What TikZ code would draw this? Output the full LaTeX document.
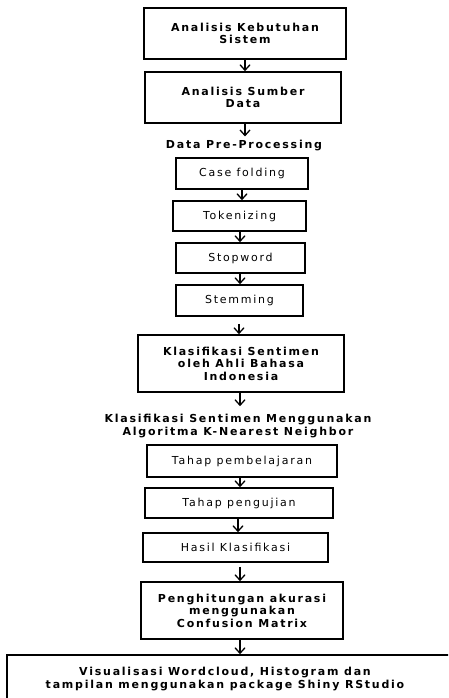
\documentclass[tikz,border=0pt]{standalone}
\usepackage{fontspec}
\setmainfont{DejaVu Sans}[LetterSpace=16]
\usepackage{tikz}
\usetikzlibrary{arrows.meta}

\tikzset{
  box/.style={draw, line width=1.6pt, inner sep=0pt, align=center,
    font=\fontsize{11}{12.5}\selectfont},
  bbox/.style={box, font=\fontsize{11}{12.5}\selectfont\bfseries},
  lbl/.style={inner sep=0pt, align=center, font=\fontsize{11}{12.5}\selectfont\bfseries},
  arr/.style={line width=1.3pt, -{Straight Barb[length=5.5pt,width=10pt]}}
}

\begin{document}
\begin{tikzpicture}[x=1pt,y=-1pt]
    \useasboundingbox (0,0) rectangle (448,698);
    \clip (0,0) rectangle (448,698);

    % Boxes
    \node[bbox, minimum width=202pt, minimum height=51pt] (kebutuhan) at (245,33.5) {Analisis Kebutuhan\\Sistem};
    \node[bbox, minimum width=196pt, minimum height=51pt] (sumber) at (243,97.5) {Analisis Sumber\\Data};
    \node[lbl] (preproc) at (244,146) {Data Pre-Processing};
    \node[box, minimum width=132pt, minimum height=31pt] (casefold) at (242,173.5) {Case folding};
    \node[box, minimum width=133pt, minimum height=30pt] (token) at (239.5,216) {Tokenizing};
    \node[box, minimum width=129pt, minimum height=30pt] (stopword) at (240.5,258) {Stopword};
    \node[box, minimum width=127pt, minimum height=31pt] (stem) at (239.5,300.5) {Stemming};
    \node[bbox, minimum width=206pt, minimum height=57pt] (ahli) at (241,363.5) {Klasifikasi Sentimen\\oleh Ahli Bahasa\\Indonesia};
    \node[lbl] (knn) at (238,426) {Klasifikasi Sentimen Menggunakan\\Algoritma K-Nearest Neighbor};
    \node[box, minimum width=190pt, minimum height=32pt] (latih) at (242,461) {Tahap pembelajaran};
    \node[box, minimum width=188pt, minimum height=30pt] (uji) at (239,503) {Tahap pengujian};
    \node[box, minimum width=185pt, minimum height=29pt] (hasil) at (235.5,547.5) {Hasil Klasifikasi};
    \node[bbox, minimum width=202pt, minimum height=57pt] (akurasi) at (242,610.5) {Penghitungan akurasi\\menggunakan\\Confusion Matrix};
    \node[bbox, minimum width=453pt, minimum height=65pt] (visual) at (233.5,687.5) {};
    \node[lbl] (vistext) at (225,679) {Visualisasi Wordcloud, Histogram dan\\tampilan menggunakan package Shiny RStudio};

    % Arrows
    \draw[arr] (kebutuhan.south -| 245,0) -- (sumber.north -| 245,0);
    \draw[arr] (sumber.south -| 245,0) -- ([yshift=4pt]preproc.north -| 245,0);
    \draw[arr] (casefold.south -| 242,0) -- (token.north -| 242,0);
    \draw[arr] (token.south -| 240,0) -- (stopword.north -| 240,0);
    \draw[arr] (stopword.south -| 240,0) -- (stem.north -| 240,0);
    \draw[arr, shorten <=7pt] (stem.south -| 239,0) -- (ahli.north -| 239,0);
    \draw[arr] (ahli.south -| 240,0) -- ([yshift=8pt]knn.north -| 240,0);
    \draw[arr] (latih.south -| 240,0) -- (uji.north -| 240,0);
    \draw[arr] (uji.south -| 238,0) -- (hasil.north -| 238,0);
    \draw[arr, shorten <=4pt] (hasil.south -| 240,0) -- (akurasi.north -| 240,0);
    \draw[arr] (akurasi.south -| 240,0) -- (visual.north -| 240,0);
\end{tikzpicture}
\end{document}
